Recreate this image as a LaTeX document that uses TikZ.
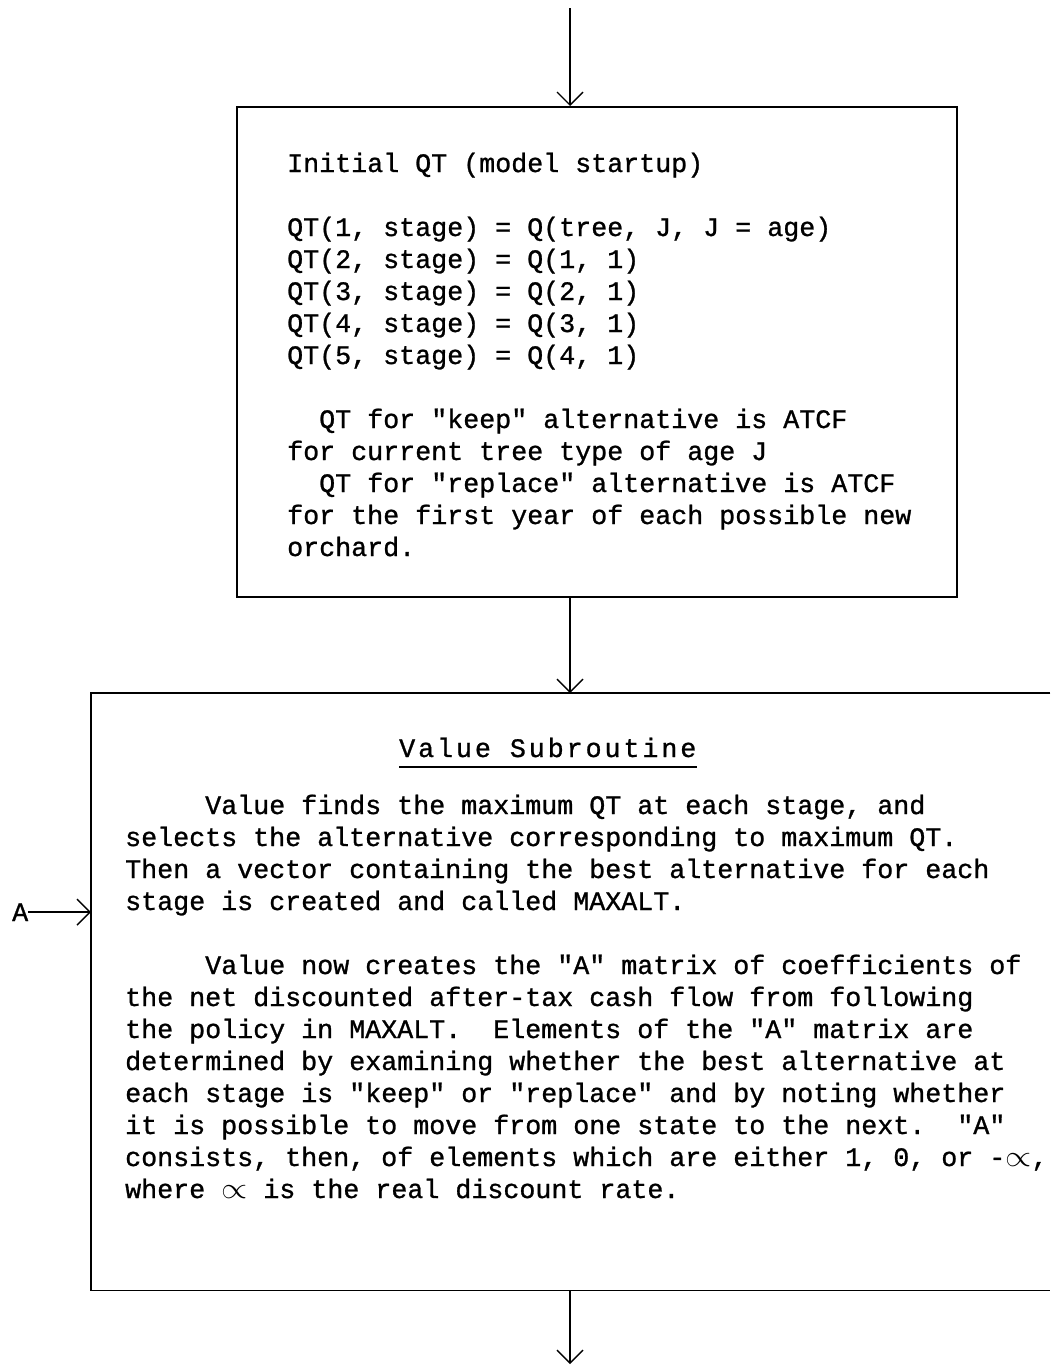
\documentclass[tikz,border=0pt]{standalone}
\usepackage{fontspec}
\newfontfamily\tw{Liberation Mono}[FakeBold=1]
\usetikzlibrary{arrows.meta}
\newcommand\discsym{\scalebox{1.35}[1.2]{$\propto$}}
\begin{document}
\begin{tikzpicture}[x=1pt,y=-1pt,
  every node/.style={inner sep=0pt},
  tt/.style={font={\tw\fontsize{26.67}{32}\selectfont\frenchspacing}, align=left, anchor=base west},
  boxline/.style={line width=1.6pt},
  flow/.style={line width=1.6pt, -{Straight Barb[length=13pt,width=26pt,line width=1.4pt]}}]
\useasboundingbox (0,0) rectangle (1050,1366);

% top box
\node[draw, boxline, minimum width=720pt, minimum height=490pt, anchor=north west] (box1) at (236,106) {};
\coordinate (start) at (570,8);
\draw[flow] (start) -- (start |- box1.north);

\node[tt] (t1) at (287,556) {Initial QT (model startup)\\[32pt]
QT(1, stage) = Q(tree, J, J = age)\\
QT(2, stage) = Q(1, 1)\\
QT(3, stage) = Q(2, 1)\\
QT(4, stage) = Q(3, 1)\\
QT(5, stage) = Q(4, 1)\\[32pt]
\phantom{xx}QT for "keep" alternative is ATCF\\
for current tree type of age J\\
\phantom{xx}QT for "replace" alternative is ATCF\\
for the first year of each possible new\\
orchard.};

% lower box (open on the right)
\node[minimum width=959pt, minimum height=597pt, anchor=north west] (box2) at (91,693) {};
\draw[boxline] (box2.north east) -- (box2.north west) -- (box2.south west) -- (box2.south east);
\draw[flow] (box1.south -| start) -- (box2.north -| start);

\node[tt, font={\tw\fontsize{26.67}{32}\selectfont\addfontfeatures{LetterSpace=11}}] (title) at (399,757) {Value Subroutine};
\draw[line width=1.3pt] ([yshift=-10pt]title.base west) -- ([yshift=-10pt]title.base east);

\node[tt] (t2) at (125,1198) {\phantom{xxxxx}Value finds the maximum QT at each stage, and\\
selects the alternative corresponding to maximum QT.\\
Then a vector containing the best alternative for each\\
stage is created and called MAXALT.\\[32pt]
\phantom{xxxxx}Value now creates the "A" matrix of coefficients of\\
the net discounted after-tax cash flow from following\\
the policy in MAXALT.~ Elements of the "A" matrix are\\
determined by examining whether the best alternative at\\
each stage is "keep" or "replace" and by noting whether\\
it is possible to move from one state to the next.~ "A"\\
consists, then, of elements which are either 1, 0, or -\discsym,\\
where \discsym{} is the real discount rate.};

% A entry
\node[tt] (A) at (12,921) {A};
\draw[flow] (A.east) -- (box2.west |- A.east);

% bottom exit
\coordinate (endp) at (570,1364);
\draw[flow] (box2.south -| start) -- (endp);
\end{tikzpicture}
\end{document}
